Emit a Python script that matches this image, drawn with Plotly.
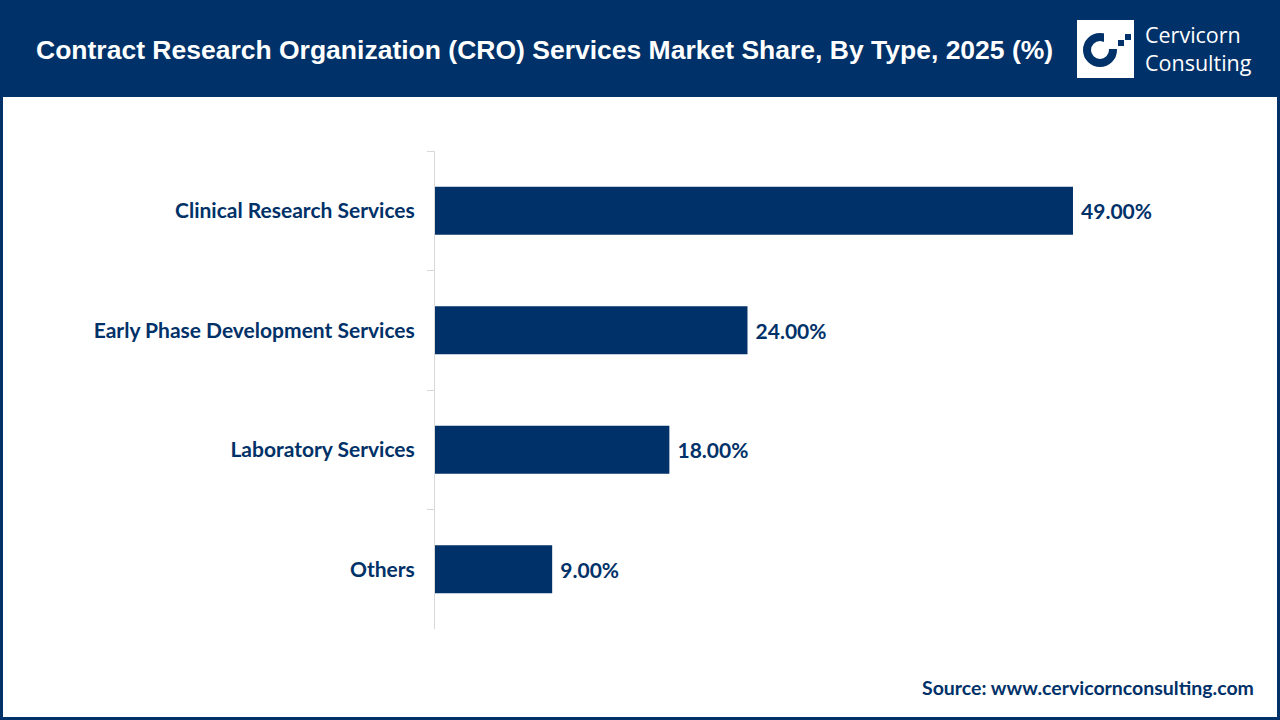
import plotly.graph_objects as go

categories = ["Clinical Research Services", "Early Phase Development Services", "Laboratory Services", "Others"]
values = [49.0, 24.0, 18.0, 9.0]
labels = ["49.00%", "24.00%", "18.00%", "9.00%"]

title_text = "Contract Research Organization (CRO) Services Market Share, By Type, 2025 (%)"
source_text = "Source: www.cervicornconsulting.com"

NAVY = "#003168"
W, H = 1280, 720
L, R, T, B = 435, 45, 151, 91
PW, PH = W - L - R, H - T - B


def px(x):
    return (x - L) / PW


def py(y):
    return (H - B - y) / PH


fig = go.Figure(go.Bar(
    x=values, y=categories, orientation="h",
    marker=dict(color=NAVY, line=dict(width=0)),
    text=labels, texttemplate=" %{text}", textposition="outside", cliponaxis=False,
    textfont=dict(family="Lato", size=21, color=NAVY, weight="bold"),
    hoverinfo="skip",
))

fig.update_layout(
    width=W, height=H,
    margin=dict(l=L, r=R, t=T, b=B),
    paper_bgcolor="white", plot_bgcolor="white",
    bargap=0.6, showlegend=False,
    xaxis=dict(range=[0, PW / 13.02], visible=False),
    yaxis=dict(autorange="reversed", showline=True, linecolor="#d9d9d9", linewidth=1,
               ticks="outside", tickson="boundaries", ticklen=7, tickcolor="#d9d9d9",
               ticklabelstandoff=15,
               tickfont=dict(family="Lato", size=21, color=NAVY, weight="bold"),
               showgrid=False, zeroline=False),
)

shapes = []
# header band
shapes.append(dict(type="rect", xref="x domain", yref="y domain",
                   x0=px(0), x1=px(W), y0=py(97), y1=py(0),
                   fillcolor=NAVY, line=dict(width=0), layer="below"))
# border
shapes.append(dict(type="rect", xref="x domain", yref="y domain",
                   x0=px(1.5), x1=px(W - 1.5), y0=py(H - 1.5), y1=py(1.5),
                   fillcolor="rgba(0,0,0,0)", line=dict(width=3, color=NAVY), layer="above"))
# logo: white square
shapes.append(dict(type="rect", xref="x domain", yref="y domain",
                   x0=px(1077), x1=px(1134), y0=py(78), y1=py(20),
                   fillcolor="white", line=dict(width=0)))
# ring
shapes.append(dict(type="circle", xref="x domain", yref="y domain",
                   x0=px(1087), x1=px(1113), y0=py(63), y1=py(37),
                   fillcolor="rgba(0,0,0,0)", line=dict(width=8, color=NAVY)))
# gap in ring at upper right
shapes.append(dict(type="rect", xref="x domain", yref="y domain",
                   x0=px(1104), x1=px(1120), y0=py(49), y1=py(30),
                   fillcolor="white", line=dict(width=0)))
# small squares
shapes.append(dict(type="rect", xref="x domain", yref="y domain",
                   x0=px(1118), x1=px(1124), y0=py(46), y1=py(40),
                   fillcolor=NAVY, line=dict(width=0)))
shapes.append(dict(type="rect", xref="x domain", yref="y domain",
                   x0=px(1125), x1=px(1131), y0=py(40), y1=py(34),
                   fillcolor=NAVY, line=dict(width=0)))
fig.update_layout(shapes=shapes)

annotations = [
    dict(text=title_text, xref="x domain", yref="y domain", x=px(34), y=py(50),
         xanchor="left", yanchor="middle", showarrow=False,
         font=dict(family="Liberation Sans", size=26.5, color="white", weight="bold")),
    dict(text="Cervicorn<br>Consulting", xref="x domain", yref="y domain", x=px(1143), y=py(48),
         xanchor="left", yanchor="middle", showarrow=False, align="left",
         font=dict(family="Open Sans", size=21.5, color="white")),
    dict(text=source_text, xref="x domain", yref="y domain", x=px(1256), y=py(687),
         xanchor="right", yanchor="middle", showarrow=False,
         font=dict(family="Lato", size=19.5, color=NAVY, weight="bold")),
]
fig.update_layout(annotations=annotations)

fig.write_html("out.html", config={"displayModeBar": False},
               post_script="document.body.style.margin='0';")
